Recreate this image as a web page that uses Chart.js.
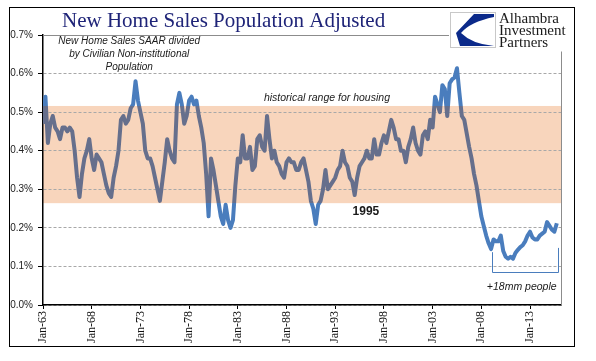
<!DOCTYPE html>
<html><head><meta charset="utf-8">
<script src="https://cdn.jsdelivr.net/npm/chart.js@4.4.1/dist/chart.umd.min.js"></script>
<style>html,body{margin:0;padding:0;background:#fff;}#wrap{width:596px;height:361px;}</style>
</head><body><div id="wrap"><canvas id="c" width="596" height="361"></canvas></div>
<script>
// ---- DATA ----
const startYear = 1963;          // first observation: Jan-63
const periodsPerYear = 4;        // quarterly readings
// New home sales SAAR / civilian non-institutional population, in %
const salesPct = [
  0.47,0.54,0.42,0.47,   // 1963
  0.49,0.46,0.45,0.43,   // 1964
  0.46,0.46,0.45,0.46,   // 1965
  0.45,0.40,0.33,0.28,   // 1966
  0.34,0.38,0.40,0.43,   // 1967
  0.38,0.35,0.39,0.38,   // 1968
  0.37,0.34,0.31,0.29,   // 1969
  0.28,0.33,0.36,0.40,   // 1970
  0.48,0.49,0.47,0.48,   // 1971
  0.51,0.52,0.58,0.53,   // 1972
  0.50,0.47,0.40,0.38,   // 1973
  0.38,0.36,0.33,0.30,   // 1974
  0.27,0.32,0.37,0.43,   // 1975
  0.40,0.38,0.37,0.52,   // 1976
  0.55,0.52,0.47,0.49,   // 1977
  0.53,0.54,0.52,0.53,   // 1978
  0.49,0.46,0.42,0.34,   // 1979
  0.23,0.38,0.35,0.31,   // 1980
  0.27,0.23,0.21,0.26,   // 1981
  0.22,0.20,0.22,0.31,   // 1982
  0.38,0.37,0.44,0.38,   // 1983
  0.38,0.41,0.35,0.36,   // 1984
  0.43,0.44,0.41,0.40,   // 1985
  0.49,0.43,0.38,0.40,   // 1986
  0.37,0.36,0.34,0.33,   // 1987
  0.37,0.38,0.37,0.37,   // 1988
  0.35,0.35,0.37,0.38,   // 1989
  0.35,0.32,0.27,0.25,   // 1990
  0.21,0.26,0.27,0.30,   // 1991
  0.35,0.30,0.31,0.32,   // 1992
  0.33,0.35,0.36,0.40,   // 1993
  0.37,0.36,0.33,0.32,   // 1994
  0.285,0.33,0.36,0.37,  // 1995
  0.38,0.40,0.38,0.38,   // 1996
  0.43,0.39,0.39,0.42,   // 1997
  0.44,0.42,0.45,0.48,   // 1998
  0.46,0.43,0.43,0.40,   // 1999
  0.40,0.37,0.41,0.43,   // 2000
  0.46,0.42,0.40,0.39,   // 2001
  0.44,0.45,0.43,0.48,   // 2002
  0.46,0.54,0.52,0.50,   // 2003
  0.57,0.56,0.49,0.575,  // 2004
  0.585,0.59,0.614,0.55, // 2005
  0.49,0.48,0.445,0.41,  // 2006
  0.38,0.34,0.31,0.27,   // 2007
  0.23,0.205,0.18,0.16,  // 2008
  0.145,0.17,0.165,0.165,// 2009
  0.18,0.14,0.125,0.12,  // 2010
  0.125,0.12,0.135,0.143,// 2011
  0.15,0.155,0.165,0.18, // 2012
  0.19,0.175,0.17,0.17,  // 2013
  0.18,0.185,0.19,0.215, // 2014
  0.205,0.195,0.19,0.212 // 2015
];
const tickYears  = [1963,1968,1973,1978,1983,1988,1993,1998,2003,2008,2013];
const tickLabels = ['Jan-63','Jan-68','Jan-73','Jan-78','Jan-83','Jan-88','Jan-93','Jan-98','Jan-03','Jan-08','Jan-13'];
const yTickValues = [0,0.1,0.2,0.3,0.4,0.5,0.6,0.7];
const historicalRange = [0.264, 0.516];   // shaded band, %
const axisEnd = 2016.18;

const titleText = 'New Home Sales Population Adjusted';
const logoLines = ['Alhambra','Investment','Partners'];
const noteLines = ['New Home Sales SAAR divided','by Civilian Non-institutional','Population'];
const notePos   = [1971.85, 0.683];
const rangeLabel = {text:'historical range for housing', x:1992.15, y:0.537};
const yearLabel  = {text:'1995', x:1996.15, y:0.241};
const peopleLabel= {text:'+18mm people', x:2012.15, y:0.047};
const bracket    = {x1:2009.1, x2:2015.87, bottom:0.086, leftTop:0.137, rightTop:0.148};

// ---- CHART ----
const points = salesPct.map((v,i)=>({x:startYear + i/periodsPerYear, y:v}));
const BLUE = '#4A7DBD', GRAY = '#666F8C', BAND = '#F8D5BC';

const decor = {
  id:'decor',
  beforeDraw(chart){
    const {ctx, chartArea:a, scales:{y}} = chart;
    ctx.save();
    ctx.fillStyle = '#fff'; ctx.fillRect(0,0,chart.width,chart.height);
    const t = y.getPixelForValue(historicalRange[1]), b = y.getPixelForValue(historicalRange[0]);
    ctx.fillStyle = BAND; ctx.fillRect(a.left, t, a.right-a.left, b-t);
    ctx.restore();
  },
  afterDraw(chart){
    const {ctx, chartArea:a, scales:{x,y}} = chart;
    ctx.save();
    // plot border (top + right), gray
    ctx.strokeStyle = '#8C8C8C'; ctx.lineWidth = 1;
    ctx.beginPath();
    ctx.moveTo(a.left, Math.round(a.top)+0.5); ctx.lineTo(a.right, Math.round(a.top)+0.5);
    ctx.moveTo(Math.round(a.right)+0.5, a.top); ctx.lineTo(Math.round(a.right)+0.5, a.bottom);
    ctx.stroke();
    // outer frame
    ctx.strokeStyle = '#000'; ctx.lineWidth = 1;
    ctx.strokeRect(9.5, 7.5, 565, 339);
    // title
    ctx.fillStyle = '#1F2478';
    ctx.font = '21px "Liberation Serif", "DejaVu Serif", serif';
    ctx.textBaseline = 'alphabetic'; ctx.textAlign = 'left';
    ctx.fillText(titleText, 62, 27);
    // logo
    ctx.fillStyle = '#fff'; ctx.fillRect(449, 8.5, 124, 43);
    ctx.strokeStyle = '#C8C8C8'; ctx.strokeRect(450.5, 12.5, 45, 35);
    ctx.fillStyle = '#0B2A8A';
    ctx.beginPath();
    ctx.moveTo(474, 14); ctx.lineTo(494, 14); ctx.lineTo(494, 17);
    ctx.quadraticCurveTo(470, 22, 461, 33);
    ctx.quadraticCurveTo(472, 44, 494, 46); ctx.lineTo(460, 46);
    ctx.lineTo(456, 33); ctx.closePath(); ctx.fill();
    ctx.fillStyle = '#1a1a1a';
    ctx.font = '15px "Liberation Serif", "DejaVu Serif", serif';
    logoLines.forEach((s,i)=>ctx.fillText(s, 499, 23 + i*12));
    // notes
    ctx.fillStyle = '#1a1a1a'; ctx.textAlign = 'center'; ctx.textBaseline = 'middle';
    ctx.font = 'italic 10px "Liberation Sans", Arial, sans-serif';
    const nx = x.getPixelForValue(notePos[0]), ny = y.getPixelForValue(notePos[1]);
    noteLines.forEach((s,i)=>ctx.fillText(s, nx, ny + i*13));
    ctx.font = 'italic 10.5px "Liberation Sans", Arial, sans-serif';
    ctx.fillText(rangeLabel.text, x.getPixelForValue(rangeLabel.x), y.getPixelForValue(rangeLabel.y));
    ctx.fillText(peopleLabel.text, x.getPixelForValue(peopleLabel.x), y.getPixelForValue(peopleLabel.y));
    ctx.font = 'bold 12px "Liberation Sans", Arial, sans-serif';
    ctx.fillText(yearLabel.text, x.getPixelForValue(yearLabel.x), y.getPixelForValue(yearLabel.y));
    // bracket
    ctx.strokeStyle = BLUE; ctx.lineWidth = 1;
    const bx1 = Math.round(x.getPixelForValue(bracket.x1))+0.5, bx2 = Math.round(x.getPixelForValue(bracket.x2))+0.5;
    const by = Math.round(y.getPixelForValue(bracket.bottom))+0.5;
    ctx.beginPath();
    ctx.moveTo(bx1, y.getPixelForValue(bracket.leftTop)); ctx.lineTo(bx1, by);
    ctx.lineTo(bx2, by); ctx.lineTo(bx2, y.getPixelForValue(bracket.rightTop));
    ctx.stroke();
    ctx.restore();
  }
};

new Chart(document.getElementById('c'), {
  type:'line',
  data:{datasets:[{
    data:points,
    borderWidth:4,
    pointRadius:0,
    tension:0,
    borderJoinStyle:'round',
    borderColor:(c)=>{
      const ch = c.chart, a = ch.chartArea;
      if(!a) return GRAY;
      const ys = ch.scales.y, h = a.bottom - a.top;
      const pHi = Math.min(1,Math.max(0,(ys.getPixelForValue(historicalRange[1]) - a.top)/h));
      const pLo = Math.min(1,Math.max(0,(ys.getPixelForValue(historicalRange[0]) - a.top)/h));
      const g = ch.ctx.createLinearGradient(0, a.top, 0, a.bottom);
      g.addColorStop(0, BLUE); g.addColorStop(pHi, BLUE);
      g.addColorStop(pHi, GRAY); g.addColorStop(pLo, GRAY);
      g.addColorStop(pLo, BLUE); g.addColorStop(1, BLUE);
      return g;
    }
  }]},
  options:{
    responsive:false, animation:false, devicePixelRatio:1,
    layout:{padding:{top:35, right:35, left:0, bottom:0}},
    plugins:{legend:{display:false}, tooltip:{enabled:false}},
    scales:{
      x:{
        type:'linear', min:startYear, max:axisEnd,
        afterBuildTicks:(s)=>{ s.ticks = tickYears.map(v=>({value:v})); },
        afterFit:(s)=>{ s.height = 56; },
        ticks:{autoSkip:false, maxRotation:90, minRotation:90, padding:2,
          color:'#111', font:{family:'"Liberation Serif", serif', size:12},
          callback:(v)=>{ const i = tickYears.indexOf(v); return i>=0 ? tickLabels[i] : ''; }},
        grid:{drawOnChartArea:false, drawTicks:true, tickLength:4, tickColor:'#000', tickWidth:1},
        border:{display:true, color:'#000', width:1.5}
      },
      y:{
        min:0, max:0.7,
        afterBuildTicks:(s)=>{ s.ticks = yTickValues.map(v=>({value:v})); },
        afterFit:(s)=>{ s.width = 43; },
        ticks:{padding:5, color:'#222', font:{family:'"Liberation Sans", Arial, sans-serif', size:10},
          callback:(v)=> v.toFixed(1)+'%'},
        grid:{color:'#A8A8A8', lineWidth:1, tickLength:5, tickColor:'#000', tickBorderDash:[], tickWidth:1},
        border:{display:true, color:'#000', width:1.5, dash:[3,2]}
      }
    }
  },
  plugins:[decor]
});
</script></body></html>
